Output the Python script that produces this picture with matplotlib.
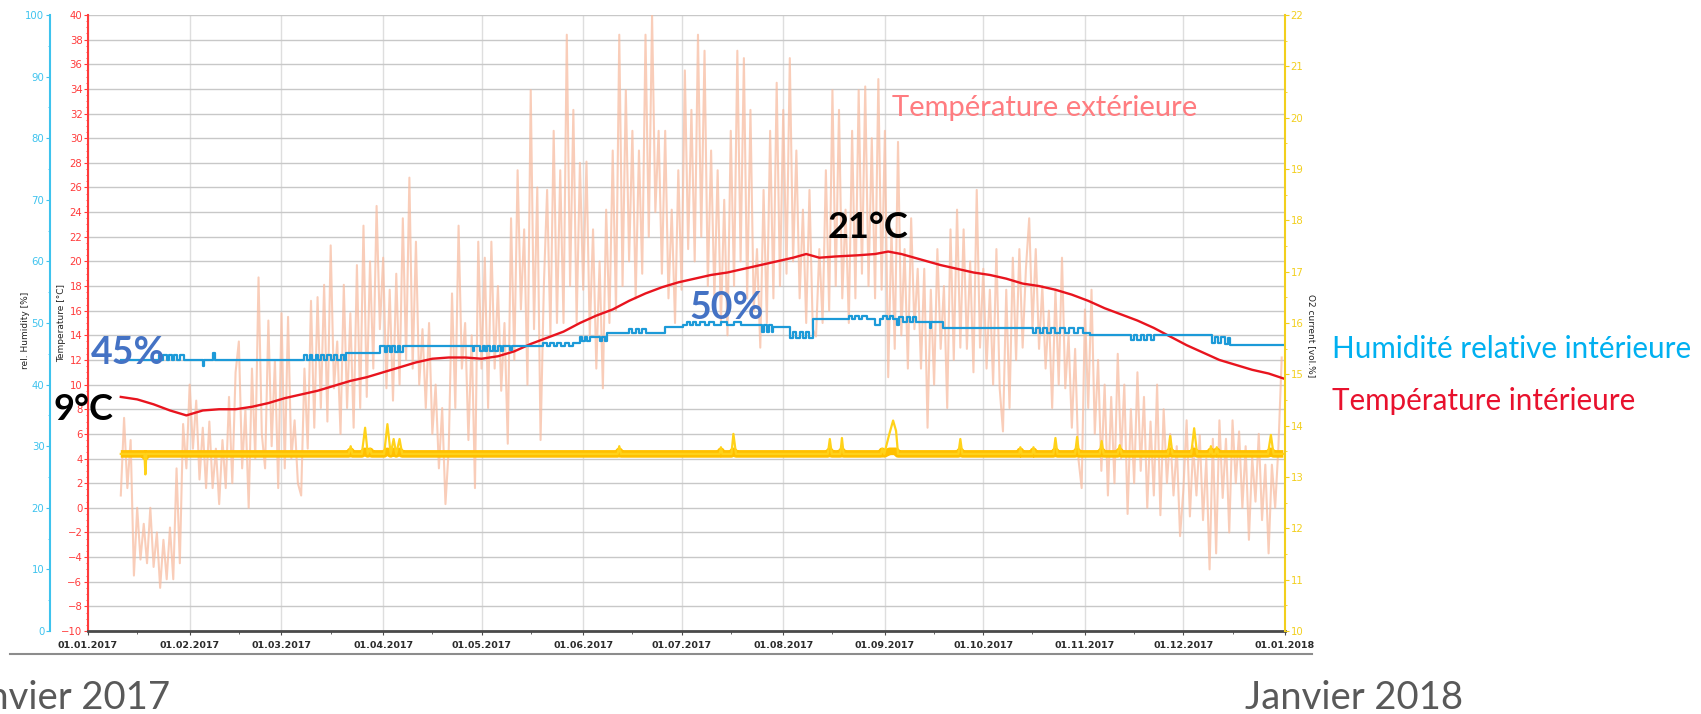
import numpy as np
import matplotlib.pyplot as plt
import matplotlib.dates as mdates
from matplotlib.ticker import MultipleLocator
from matplotlib.lines import Line2D
from datetime import datetime

W, H = 1701, 714

# outdoor temperature [°C], one reading per day from 10.01.2017 (day/night extremes alternate)
out_jan = [1.0, 7.3, 1.6, 5.5, -5.5, 0.0, -4.2, -1.3, -4.5, 0.0, -4.8, -2.0, -6.5, -2.6,
           -5.8, -1.6, -5.8, 3.2, -4.5, 6.8, 3.2]
out_feb = [10.0, 4.8, 8.7, 2.3, 6.5, 1.6, 7.0, 1.6, 4.8, 0.3, 5.5, 1.6, 9.0, 2.0, 11.0,
           13.5, 3.2, 8.0, 0.0, 11.3, 4.0, 18.7, 6.0, 3.2, 15.2, 5.0, 12.0, 1.6]
out_mar = [15.8, 3.2, 15.5, 4.0, 7.1, 2.0, 1.0, 11.3, 4.8, 16.8, 6.5, 17.1, 8.1, 18.1, 7.0,
           21.3, 9.7, 13.5, 6.0, 18.1, 8.1, 15.8, 6.5, 19.7, 8.1, 22.9, 9.0, 20.0, 11.3, 24.5, 14.5]
out_apr = [20.3, 9.7, 17.7, 8.7, 19.0, 10.0, 23.5, 12.0, 26.8, 11.3, 21.6, 10.0, 14.5, 8.1, 15.0,
           6.0, 10.0, 3.2, 8.1, 0.3, 4.8, 17.4, 8.1, 22.9, 11.3, 15.0, 5.5, 14.0, 1.6, 21.6]
out_may = [11.3, 20.3, 8.1, 21.6, 11.3, 18.0, 9.5, 15.0, 5.2, 23.5, 12.0, 27.4, 16.1, 22.6, 10.0,
           33.9, 14.5, 26.0, 5.5, 18.0, 25.8, 14.0, 30.6, 15.0, 27.4, 15.0, 38.4, 18.0, 32.3, 15.0, 28.0]
out_jun = [17.7, 28.1, 14.0, 22.6, 11.3, 20.0, 9.7, 24.2, 15.0, 29.0, 16.0, 38.4, 18.0, 33.9, 20.0,
           30.6, 17.0, 29.0, 19.0, 38.4, 22.0, 40.0, 24.0, 30.6, 19.0, 30.6, 17.0, 24.2, 15.0, 27.4]
out_jul = [17.7, 35.5, 21.0, 32.3, 20.0, 38.4, 22.0, 37.1, 18.0, 29.0, 17.0, 27.4, 15.0, 25.0, 14.0,
           30.6, 18.0, 37.1, 20.0, 36.5, 17.0, 32.3, 16.0, 21.0, 13.0, 25.8, 15.0, 30.6, 17.0, 34.5, 18.0]
out_aug = [32.3, 19.0, 36.5, 20.0, 29.0, 17.0, 24.2, 15.0, 25.8, 14.5, 13.9, 21.0, 15.0, 27.4, 16.0,
           33.9, 18.0, 32.3, 17.0, 24.2, 15.0, 30.6, 17.0, 33.9, 19.0, 34.2, 18.0, 30.0, 17.0, 34.8, 17.7]
out_sep = [30.6, 10.6, 22.6, 12.9, 29.7, 14.0, 21.0, 11.3, 23.5, 14.5, 19.4, 11.3, 19.4, 6.5, 17.7,
           10.0, 21.0, 12.9, 18.0, 8.1, 22.6, 12.0, 24.2, 13.0, 22.6, 12.9, 20.0, 11.0, 25.8, 13.0]
out_oct = [19.4, 11.3, 17.7, 10.0, 21.0, 9.7, 6.2, 17.7, 8.1, 20.3, 12.0, 21.0, 13.0, 19.4, 23.5,
           14.5, 21.0, 12.9, 18.0, 11.3, 16.0, 8.1, 17.7, 10.0, 20.3, 9.7, 14.0, 6.5, 12.9, 4.0, 1.6]
out_nov = [16.1, 8.1, 17.7, 6.0, 12.0, 3.0, 10.0, 1.0, 9.0, 2.0, 12.5, 4.0, 10.0, -0.5, 8.0,
           2.0, 11.0, 3.0, 9.0, 0.0, 7.0, 1.0, 10.0, -0.6, 8.0, 2.0, 6.0, 1.0, 5.0, -2.3]
out_dec = [1.4, 7.1, -0.7, 5.0, 1.0, 5.9, -1.0, 4.0, -5.0, 5.6, -3.7, 7.1, 0.8, 5.6, -2.0,
           7.1, 2.0, 6.2, 0.0, 5.0, -2.6, 4.1, 0.5, 6.0, -1.0, 3.5, -3.7, 3.5, 0.0, 5.0, 12.2]
outdoor_temp = (out_jan + out_feb + out_mar + out_apr + out_may + out_jun + out_jul
                + out_aug + out_sep + out_oct + out_nov + out_dec)
outdoor_first_day = 10

# indoor temperature [°C]
indoor_day = [10, 15, 20, 25, 30, 35, 40, 45, 50, 55, 60, 65, 70, 75, 80, 85, 90, 95, 100,
              105, 110, 115, 120, 125, 130, 135, 140, 145, 150, 155, 160, 165, 170, 175, 180,
              185, 190, 195, 200, 205, 210, 215, 219, 223, 228, 235, 240, 244, 248, 252, 256,
              260, 265, 270, 275, 280, 285, 290, 295, 300, 305, 310, 315, 320, 325, 330, 335,
              340, 345, 350, 355, 360, 364.5]
indoor_temp = [9.0, 8.8, 8.4, 7.9, 7.5, 7.9, 8.0, 8.0, 8.2, 8.5, 8.9, 9.2, 9.5, 9.9, 10.3,
               10.6, 11.0, 11.4, 11.8, 12.1, 12.2, 12.2, 12.1, 12.3, 12.7, 13.3, 13.8, 14.3,
               15.0, 15.6, 16.1, 16.8, 17.4, 17.9, 18.3, 18.6, 18.9, 19.1, 19.4, 19.7, 20.0,
               20.3, 20.6, 20.3, 20.4, 20.5, 20.6, 20.8, 20.6, 20.3, 20.0, 19.7, 19.4, 19.1,
               18.9, 18.6, 18.2, 18.0, 17.7, 17.3, 16.8, 16.2, 15.7, 15.2, 14.6, 13.9, 13.2,
               12.6, 12.0, 11.6, 11.2, 10.9, 10.5]

# indoor relative humidity [%], stepped readings as (day, value)
hum_steps = [
    (10, 44.0), (21.5, 44.8), (22.2, 44.0), (23.0, 44.8), (24.0, 44.0), (24.6, 44.8),
    (25.5, 44.0), (26.2, 44.8), (27.2, 44.0), (28.0, 44.8), (29.2, 44.0), (35.0, 43.0),
    (35.5, 44.0), (38.2, 45.2), (38.6, 44.0),
    (66.0, 44.8), (66.8, 44.0), (67.6, 44.8), (68.4, 44.0), (69.4, 44.8), (70.2, 44.0),
    (71.2, 44.8), (72.0, 44.0), (73.0, 44.8), (74.0, 44.0), (75.0, 44.8), (76.0, 44.0),
    (77.0, 44.8), (78.0, 44.0), (78.6, 45.1),
    (89.0, 46.2), (90.5, 45.3), (91.3, 46.2), (92.0, 45.3), (92.8, 46.2), (93.6, 45.3),
    (94.4, 46.2), (95.2, 45.3), (96.2, 46.2),
    (117.4, 45.4), (117.8, 46.2), (119.5, 45.4), (120.3, 46.2), (121.0, 45.4), (121.8, 46.2),
    (122.6, 45.4), (123.4, 46.2), (124.2, 45.4), (125.0, 46.2), (125.8, 45.4), (126.6, 46.2),
    (128.6, 45.6), (129.2, 46.2),
    (138.8, 46.8), (140.0, 46.2), (141.0, 46.8), (142.0, 46.2), (143.0, 46.8), (144.2, 46.2),
    (145.4, 46.8), (146.6, 46.2), (148.0, 46.8),
    (150.0, 47.7), (150.6, 47.0), (151.4, 47.7), (152.2, 47.0), (153.0, 47.7), (156.0, 47.0),
    (156.8, 47.7), (157.6, 47.0), (158.2, 48.4),
    (165.0, 49.0), (166.0, 48.4), (167.0, 49.0), (168.0, 48.4), (169.0, 49.0), (170.0, 48.4),
    (176.0, 49.4), (181.5, 49.7), (182.5, 50.2), (183.5, 49.7), (184.5, 50.2), (185.5, 49.7),
    (186.5, 50.2), (188.0, 49.7), (189.5, 50.2), (191.0, 49.7), (193.0, 50.2), (195.0, 49.7),
    (197.0, 50.2), (199.0, 49.7),
    (205.4, 48.6), (206.2, 49.7), (207.0, 48.6), (207.8, 49.7), (208.6, 48.6), (209.0, 49.4),
    (214.0, 47.6), (215.0, 48.5), (216.0, 47.5), (217.0, 48.5), (218.0, 47.5), (219.0, 48.5),
    (220.0, 47.6), (221.0, 50.6),
    (232.0, 51.2), (233.0, 50.6), (234.0, 51.2), (235.0, 50.6), (236.0, 51.2), (237.4, 50.6),
    (240.0, 49.7), (241.5, 50.6), (242.5, 51.2), (243.5, 50.6), (244.5, 51.2), (245.5, 50.6),
    (246.6, 49.7), (247.2, 51.0), (248.6, 50.2), (249.6, 51.0), (250.6, 50.2), (251.6, 51.0),
    (252.6, 50.2), (256.7, 49.2), (257.2, 50.2), (260.8, 49.2),
    (288.2, 48.4), (289.2, 49.2), (290.2, 48.4), (291.2, 49.2), (292.4, 48.4), (293.6, 49.2),
    (295.0, 48.4), (296.4, 49.2), (297.8, 48.4), (299.2, 49.2), (300.6, 48.4), (302.0, 49.2),
    (303.4, 48.4), (305.5, 48.0),
    (318.0, 47.2), (319.0, 48.0), (320.0, 47.2), (321.0, 48.0), (322.0, 47.2), (323.0, 48.0),
    (324.0, 47.2), (325.0, 48.0),
    (342.6, 46.8), (343.6, 47.8), (344.6, 46.8), (345.6, 47.8), (346.6, 46.6), (347.6, 47.6),
    (348.3, 46.4), (365.0, 46.4),
]

# O2 content [vol.%]
o2_day = [10, 17.2, 17.5, 17.8, 79.5, 80.1, 80.6, 83.5, 84.5, 85.3, 86.0, 86.5, 90.3, 91.3,
          92.3, 93.2, 94.0, 95.0, 95.8, 161.5, 162.0, 162.5, 192.6, 193.0, 193.4, 196.2,
          196.8, 197.6, 225.6, 226.2, 226.8, 229.4, 229.9, 230.4, 241.8, 242.2, 242.8, 244.4,
          245.5, 246.4, 247.0, 265.4, 266.0, 266.6, 284.0, 284.3, 284.7, 288.0, 288.3, 288.7,
          294.4, 295.0, 295.6, 301.0, 301.6, 302.2, 308.5, 309.1, 309.7, 314.0, 314.6, 315.2,
          329.3, 330.0, 330.7, 336.4, 337.3, 338.2, 342.0, 342.4, 342.8, 343.8, 344.2, 344.6,
          359.8, 360.7, 361.5, 364.5]
o2_val = [13.45, 13.45, 13.05, 13.45, 13.45, 13.6, 13.45, 13.45, 13.96, 13.45, 13.55, 13.45,
          13.45, 14.03, 13.45, 13.74, 13.45, 13.74, 13.45, 13.45, 13.6, 13.45, 13.45, 13.58,
          13.45, 13.45, 13.84, 13.45, 13.45, 13.74, 13.45, 13.45, 13.76, 13.45, 13.45, 13.55,
          13.45, 13.85, 14.1, 13.9, 13.45, 13.45, 13.74, 13.45, 13.45, 13.58, 13.45, 13.45,
          13.58, 13.45, 13.45, 13.76, 13.45, 13.45, 13.78, 13.45, 13.45, 13.7, 13.45, 13.45,
          13.62, 13.45, 13.45, 13.8, 13.45, 13.45, 13.95, 13.45, 13.45, 13.6, 13.45, 13.45,
          13.58, 13.45, 13.45, 13.82, 13.45, 13.45]

RED = '#FF3B3B'
CYAN = '#3EC3EE'
YEL = '#F2CF1D'
SANS = ['Lato', 'DejaVu Sans']

t0 = mdates.date2num(datetime(2017, 1, 1))
out_x = t0 + outdoor_first_day + np.arange(len(outdoor_temp))
hum_day, hum_val = zip(*hum_steps)

fig = plt.figure(figsize=(W / 100, H / 100), dpi=100)
ax = fig.add_axes([88 / W, 1 - 631 / H, (1285 - 88) / W, (631 - 15) / H])
ax_h = ax.twinx()
ax_o = ax.twinx()

ax.plot(out_x, outdoor_temp, color='#F8BDA2', lw=1.5, alpha=0.75)
ax.plot(t0 + np.array(indoor_day), indoor_temp, color='#E8141E', lw=1.7)

o2 = np.array(o2_val)
ax_o.plot(t0 + np.array(o2_day), np.clip(o2, 13.4, 13.5), color='#FFC000', lw=5.5,
          solid_capstyle='butt')
ax_o.plot(t0 + np.array(o2_day), o2, color='#FFD21A', lw=1.6)

ax_h.plot(t0 + np.array(hum_day), hum_val, color='#1C9AD8', lw=1.6, drawstyle='steps-post')

ax.set_xlim(t0, t0 + 365)
ax.set_ylim(-10, 40)
ax_h.set_ylim(0, 100)
ax_o.set_ylim(10, 22)

ax.xaxis.set_major_locator(mdates.MonthLocator())
ax.xaxis.set_minor_locator(mdates.MonthLocator(bymonthday=16))
ax.xaxis.set_major_formatter(mdates.DateFormatter('%d.%m.%Y'))
ax.yaxis.set_major_locator(MultipleLocator(2))
ax.yaxis.set_minor_locator(MultipleLocator(0.5))
ax_h.yaxis.set_major_locator(MultipleLocator(10))
ax_h.yaxis.set_minor_locator(MultipleLocator(5))
ax_o.yaxis.set_major_locator(MultipleLocator(1))
ax_o.yaxis.set_minor_locator(MultipleLocator(0.5))

ax.grid(axis='y', color='#C8C8C8', lw=1)
ax.grid(axis='x', color='#DEDEDE', lw=1)
ax.set_axisbelow(True)

for a in (ax, ax_h, ax_o):
    a.spines['top'].set_visible(False)
ax.spines['right'].set_visible(False)
ax.spines['left'].set_color(RED)
ax.spines['left'].set_linewidth(1.5)
ax.spines['bottom'].set_color('#4A4A4A')
ax.spines['bottom'].set_linewidth(2)

ax_h.spines['right'].set_visible(False)
ax_h.spines['bottom'].set_visible(False)
ax_h.spines['left'].set_visible(True)
ax_h.spines['left'].set_position(('axes', -38 / 1197))
ax_h.spines['left'].set_color(CYAN)
ax_h.spines['left'].set_linewidth(1.5)
ax_h.yaxis.set_ticks_position('left')

ax_o.spines['left'].set_visible(False)
ax_o.spines['bottom'].set_visible(False)
ax_o.spines['right'].set_color(YEL)
ax_o.spines['right'].set_linewidth(1.5)

ax.tick_params(axis='x', which='major', length=3, color='#4A4A4A', pad=4, labelsize=6.8,
               labelcolor='#2A2A2A')
ax.tick_params(axis='x', which='minor', length=2, color='#4A4A4A')
ax.tick_params(axis='y', which='major', length=3, color=RED, labelcolor=RED, labelsize=7.3,
               pad=1)
ax.tick_params(axis='y', which='minor', length=1.5, color=RED)
ax_h.tick_params(axis='y', which='major', length=3, color=CYAN, labelcolor=CYAN, labelsize=7.3,
                 pad=1)
ax_h.tick_params(axis='y', which='minor', length=1.5, color=CYAN)
ax_o.tick_params(axis='y', which='major', length=3, color=YEL, labelcolor=YEL, labelsize=7.3,
                 pad=1)
ax_o.tick_params(axis='y', which='minor', length=1.5, color=YEL)
for lab in ax.get_xticklabels():
    lab.set_fontweight('bold')


def ftext(x, y, s, **kw):
    return fig.text(x / W, 1 - y / H, s, **kw)


ftext(25, 330, 'rel. Humidity [%]', rotation=90, ha='center', va='center', fontsize=6.5,
      color='#222222')
ftext(62, 323, 'Temperature [°C]', rotation=90, ha='center', va='center', fontsize=6.5,
      color='#222222')
ftext(1311, 336, 'O2 current [vol.%]', rotation=270, ha='center', va='center', fontsize=6.5,
      color='#222222')

ftext(868, 228, '21°C', ha='center', va='center', fontsize=26, fontweight='bold',
      family=SANS, color='black')
ftext(83, 410, '9°C', ha='center', va='center', fontsize=26, fontweight='bold',
      family=SANS, color='black')
ftext(128, 353, '45%', ha='center', va='center', fontsize=27, fontweight='bold',
      family=SANS, color='#4472C4')
ftext(727, 308, '50%', ha='center', va='center', fontsize=27, fontweight='bold',
      family=SANS, color='#4472C4')

ftext(892, 108, 'Température extérieure', ha='left', va='center', fontsize=21,
      family=SANS, color='#FF7C80')
ftext(1332, 349, 'Humidité relative intérieure', ha='left', va='center', fontsize=21.3,
      family=SANS, color='#00B0F0')
ftext(1332, 401, 'Température intérieure', ha='left', va='center', fontsize=21.3,
      family=SANS, color='#E8112D')

ftext(170, 709, 'Janvier 2017', ha='right', va='baseline', fontsize=27.5, family=SANS,
      color='#595959')
ftext(1245, 709, 'Janvier 2018', ha='left', va='baseline', fontsize=27.5, family=SANS,
      color='#595959')

fig.add_artist(Line2D([10 / W, 1312 / W], [1 - 654 / H, 1 - 654 / H], color='#8C8C8C', lw=1.5))

fig.savefig('out.png', dpi=100)
